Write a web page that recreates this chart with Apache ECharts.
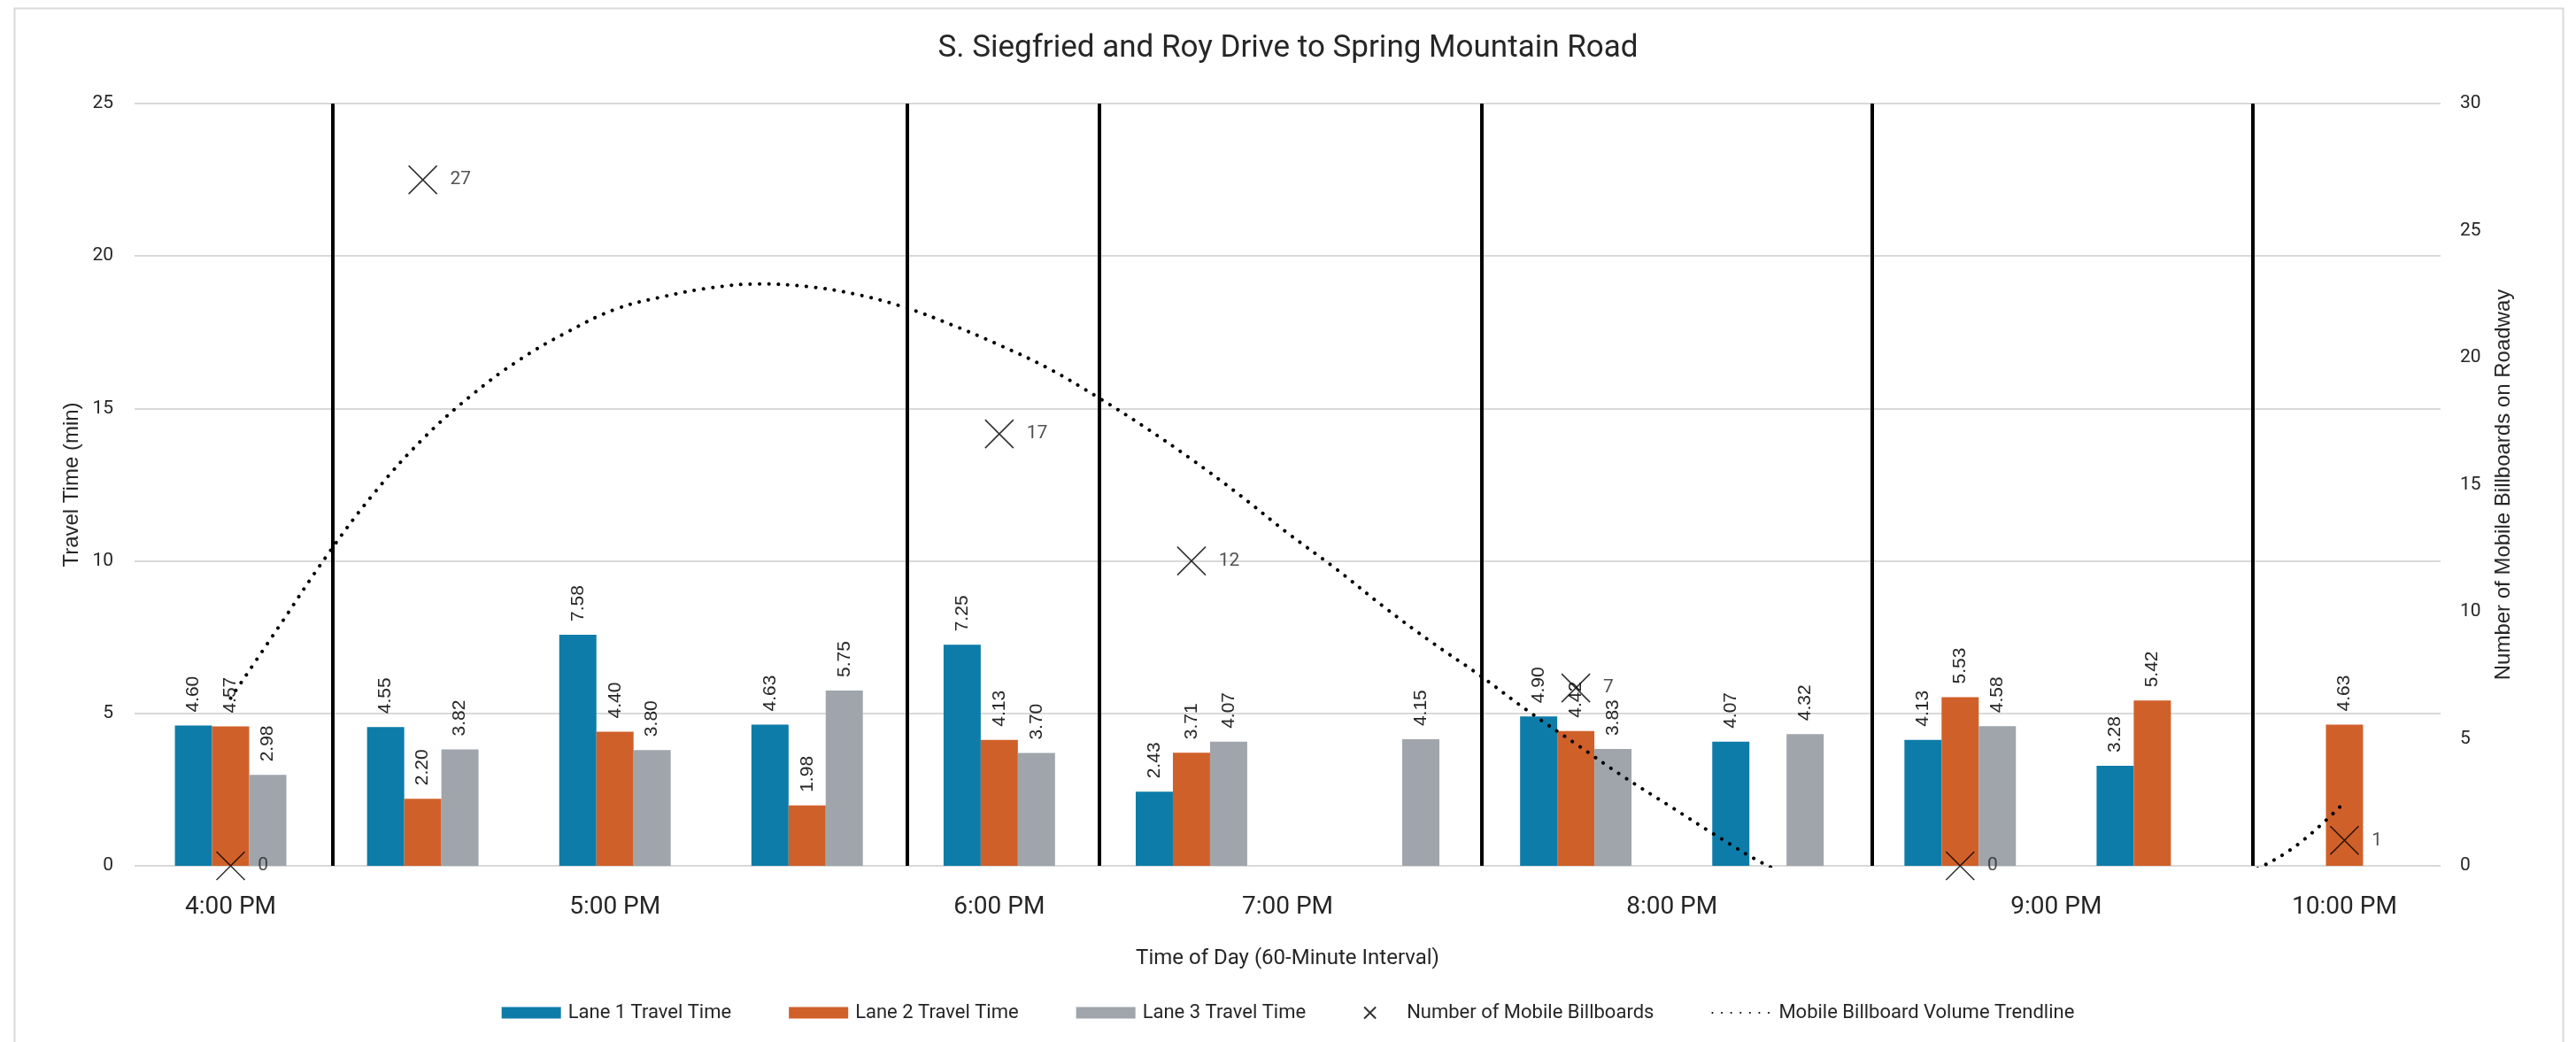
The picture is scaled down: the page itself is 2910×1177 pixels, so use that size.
<!DOCTYPE html>
<html>
<head>
<meta charset="utf-8">
<script src="https://cdn.jsdelivr.net/npm/echarts@6/dist/echarts.min.js"></script>
<style>
html, body { margin: 0; padding: 0; background: #ffffff; }
#chart { width: 2910px; height: 1177px; }
</style>
</head>
<body>
<div id="chart"></div>
<script>
// ---- Data ----
const slotHour = ['4:00 PM', '5:00 PM', '5:00 PM', '5:00 PM', '6:00 PM', '7:00 PM',
                  '7:00 PM', '8:00 PM', '8:00 PM', '9:00 PM', '9:00 PM', '10:00 PM'];
const lane1 = [4.60, 4.55, 7.58, 4.63, 7.25, 2.43, null, 4.90, 4.07, 4.13, 3.28, null];
const lane2 = [4.57, 2.20, 4.40, 1.98, 4.13, 3.71, null, 4.42, null, 5.53, 5.42, 4.63];
const lane3 = [2.98, 3.82, 3.80, 5.75, 3.70, 4.07, 4.15, 3.83, 4.32, 4.58, null, null];
const billboards = [0, 27, null, null, 17, 12, null, 7, null, 0, null, 1];
// Trendline (polynomial fit as drawn in the picture), x in slot units, y on right axis
const trendX = [0, 0.25, 0.5, 0.75, 1, 1.25, 1.5, 1.75, 2, 2.25, 2.5, 2.75, 3, 3.25, 3.5, 3.75,
                4, 4.25, 4.5, 4.75, 5, 5.25, 5.5, 5.75, 6, 6.25, 6.5, 6.75, 7, 7.25, 7.5, 7.75,
                8, 8.5, 9, 9.5, 10, 10.5, 10.75, 11];
const trendY = [6.6, 9.4, 12.2, 14.7, 16.8, 18.5, 19.9, 21.0, 21.9, 22.4, 22.75, 22.9, 22.8, 22.5, 22.0, 21.3,
                20.5, 19.6, 18.5, 17.3, 16.0, 14.6, 13.1, 11.7, 10.2, 8.8, 7.5, 6.1, 4.8, 3.5, 2.3, 1.1,
                0, -1.7, -2.8, -3.0, -2.2, -0.3, 0.8, 2.5];
// Hour separators (slot units)
const separatorPos = [0.53, 3.52, 4.52, 6.51, 8.54, 10.52];
const seriesNames = ['Lane 1 Travel Time', 'Lane 2 Travel Time', 'Lane 3 Travel Time',
                     'Number of Mobile Billboards', 'Mobile Billboard Volume Trendline'];

// ---- derived ----
const categories = slotHour.map((h, i) => h + ' #' + (i + 1));
const hourGroups = [];
slotHour.forEach((h, i) => {
  let g = hourGroups.find(x => x.label === h);
  if (!g) { g = { label: h, idx: [] }; hourGroups.push(g); }
  g.idx.push(i);
});
hourGroups.forEach(g => { g.center = (g.idx[0] + g.idx[g.idx.length - 1]) / 2; });

const COND = 'Roboto';
const ARIAL = 'Liberation Sans';
const TXT = '#262626';

const barLabel = {
  show: true, position: 'top', rotate: 90, align: 'left', verticalAlign: 'middle',
  distance: 15, fontFamily: ARIAL, fontSize: 21, color: TXT,
  formatter: p => Number(p.value).toFixed(2)
};

function barSeries(name, data, color) {
  return {
    type: 'bar', name: name, data: data, xAxisIndex: 0, yAxisIndex: 0,
    barGap: '0%', barCategoryGap: '42%',
    itemStyle: { color: color },
    label: barLabel, z: 2
  };
}

const chart = echarts.init(document.getElementById('chart'), null, { renderer: 'canvas' });
chart.setOption({
  animation: false,
  backgroundColor: '#ffffff',
  title: {
    text: 'S. Siegfried and Roy Drive to Spring Mountain Road',
    left: 'center', top: 33,
    textStyle: { fontFamily: COND, fontSize: 35, fontWeight: 'normal', color: TXT }
  },
  graphic: [{
    type: 'rect', left: 14, top: 7, silent: true, z: -10,
    shape: { width: 2879, height: 1185 },
    style: { fill: 'none', stroke: '#d9d9d9', lineWidth: 2 }
  }],
  grid: { left: 152, right: 153, top: 117, bottom: 199, containLabel: false },
  legend: {
    top: 1128, left: 'center',
    itemWidth: 67, itemHeight: 13, itemGap: 65,
    textStyle: { fontFamily: COND, fontSize: 22, color: TXT, padding: [0, 0, 0, 3] },
    data: [
      { name: seriesNames[0], icon: 'rect' },
      { name: seriesNames[1], icon: 'rect' },
      { name: seriesNames[2], icon: 'rect' },
      { name: seriesNames[3] },
      { name: seriesNames[4], itemStyle: { opacity: 0 } }
    ]
  },
  xAxis: [
    {
      type: 'category', data: categories, position: 'bottom', show: false, boundaryGap: true
    },
    {
      type: 'value', min: -0.5, max: 11.5, interval: 0.5, position: 'bottom',
      axisLine: { show: false }, axisTick: { show: false }, splitLine: { show: false },
      axisLabel: {
        fontFamily: COND, fontSize: 28, color: TXT, margin: 33,
        formatter: v => {
          const g = hourGroups.find(x => Math.abs(x.center - v) < 1e-6);
          return g ? g.label : '';
        }
      },
      name: 'Time of Day (60-Minute Interval)', nameLocation: 'middle', nameGap: 93,
      nameTextStyle: { fontFamily: COND, fontSize: 24, color: TXT }
    }
  ],
  yAxis: [
    {
      type: 'value', min: 0, max: 25, interval: 5, position: 'left',
      axisLine: { show: false }, axisTick: { show: false },
      splitLine: { lineStyle: { color: '#d9d9d9', width: 2 } },
      axisLabel: { fontFamily: COND, fontSize: 21, color: TXT, margin: 24 },
      name: 'Travel Time (min)', nameLocation: 'middle', nameRotate: 90, nameGap: 57,
      nameTextStyle: { fontFamily: ARIAL, fontSize: 24, color: TXT }
    },
    {
      type: 'value', min: 0, max: 30, interval: 5, position: 'right',
      axisLine: { show: false }, axisTick: { show: false }, splitLine: { show: false },
      axisLabel: { fontFamily: COND, fontSize: 21, color: TXT, margin: 22 },
      name: 'Number of Mobile Billboards on Roadway', nameLocation: 'middle', nameRotate: 90, nameGap: 59,
      nameTextStyle: { fontFamily: ARIAL, fontSize: 24, color: TXT }
    }
  ],
  series: [
    barSeries(seriesNames[0], lane1, '#0e7ca8'),
    barSeries(seriesNames[1], lane2, '#d0602a'),
    barSeries(seriesNames[2], lane3, '#9fa5ab'),
    {
      type: 'scatter', name: seriesNames[3], xAxisIndex: 0, yAxisIndex: 1,
      data: billboards,
      symbol: 'path://M0,0L10,10M10,0L0,10', symbolSize: 32,
      itemStyle: { color: 'rgba(0,0,0,0)', borderColor: '#000000', borderWidth: 1.6 },
      label: {
        show: true, position: 'right', distance: 14,
        fontFamily: COND, fontSize: 21, color: TXT,
        formatter: p => Array.isArray(p.value) ? p.value[1] : p.value
      },
      z: 6
    },
    {
      type: 'line', name: seriesNames[4], xAxisIndex: 1, yAxisIndex: 1,
      data: trendX.map((x, i) => [x, trendY[i]]),
      smooth: 0.4, symbol: 'none', clip: true, z: 5,
      itemStyle: { color: '#000000' },
      lineStyle: { color: '#000000', width: 4, type: [0.1, 10.5], cap: 'round' },
      markLine: {
        silent: true, symbol: ['none', 'none'], label: { show: false },
        lineStyle: { color: '#000000', width: 4, type: 'solid' },
        data: separatorPos.map(v => ({ xAxis: v }))
      }
    }
  ]
});
</script>
</body>
</html>
